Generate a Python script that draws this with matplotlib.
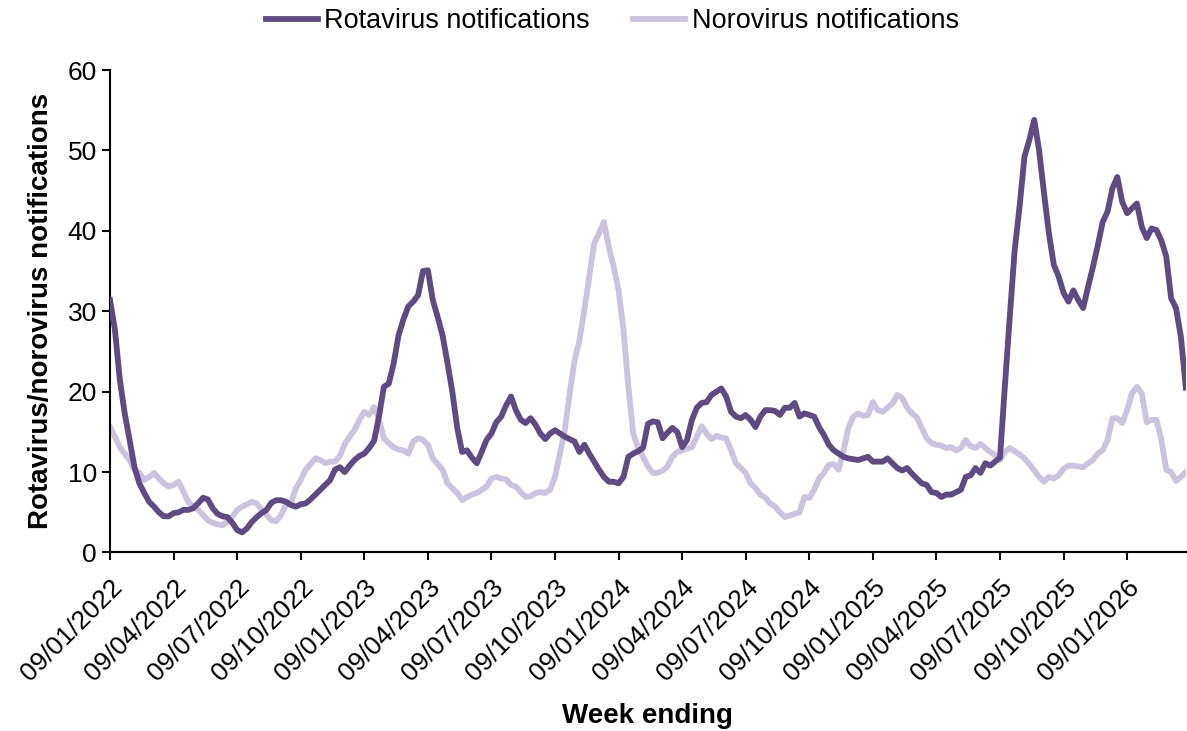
import numpy as np
import matplotlib
matplotlib.use("Agg")
import matplotlib.pyplot as plt

plt.rcParams['font.family'] = ['Liberation Sans', 'DejaVu Sans']

# weekly notifications
rotavirus = [
    31.4, 27.7, 21.5, 17.3, 14.0, 10.6, 8.6, 7.4, 6.3, 5.7,
    5.0, 4.5, 4.5, 4.9, 5.0, 5.3, 5.3, 5.5, 6.1, 6.8,
    6.6, 5.5, 4.8, 4.5, 4.4, 3.7, 2.8, 2.5, 3.0, 3.8,
    4.4, 4.9, 5.3, 6.2, 6.5, 6.5, 6.3, 5.9, 5.7, 6.0,
    6.1, 6.6, 7.2, 7.8, 8.4, 9.0, 10.3, 10.6, 10.0, 10.8,
    11.5, 12.0, 12.3, 13.0, 13.9, 16.9, 20.6, 21.0, 23.5, 27.0,
    29.0, 30.6, 31.2, 32.0, 35.0, 35.1, 31.4, 29.3, 27.0, 23.6,
    20.0, 15.5, 12.5, 12.7, 11.8, 11.1, 12.5, 14.0, 14.8, 16.2,
    16.9, 18.3, 19.4, 17.7, 16.5, 16.1, 16.7, 15.9, 14.8, 14.1,
    14.8, 15.2, 14.8, 14.4, 14.1, 13.8, 12.5, 13.4, 12.3, 11.3,
    10.3, 9.4, 8.8, 8.8, 8.6, 9.4, 11.9, 12.3, 12.6, 13.0,
    16.0, 16.3, 16.2, 14.2, 14.9, 15.5, 15.0, 13.1, 14.0, 16.5,
    18.0, 18.6, 18.7, 19.6, 20.0, 20.4, 19.4, 17.5, 16.9, 16.7,
    17.1, 16.5, 15.6, 16.9, 17.7, 17.7, 17.6, 17.1, 18.0, 18.0,
    18.6, 16.9, 17.3, 17.1, 16.9, 15.6, 14.6, 13.4, 12.7, 12.3,
    11.9, 11.7, 11.6, 11.5, 11.7, 11.9, 11.3, 11.3, 11.3, 11.7,
    11.1, 10.5, 10.2, 10.5, 9.8, 9.2, 8.6, 8.4, 7.5, 7.4,
    6.9, 7.2, 7.2, 7.5, 7.8, 9.4, 9.6, 10.5, 9.9, 11.1,
    10.8, 11.3, 11.8, 20.7, 29.3, 37.6, 43.0, 49.2, 51.3, 53.8,
    50.0, 44.7, 39.7, 35.8, 34.3, 32.3, 31.2, 32.6, 31.4, 30.4,
    33.0, 35.5, 38.2, 41.1, 42.4, 45.3, 46.7, 43.6, 42.2, 42.8,
    43.4, 40.5, 39.1, 40.3, 40.1, 38.8, 36.8, 31.6, 30.4, 26.8,
    20.5,
]

norovirus = [
    15.6, 14.4, 13.1, 12.3, 11.5, 10.3, 9.9, 9.0, 9.4, 9.9,
    9.2, 8.6, 8.2, 8.4, 8.8, 7.6, 6.3, 5.7, 5.3, 4.7,
    4.0, 3.7, 3.5, 3.4, 3.8, 4.4, 5.3, 5.7, 6.0, 6.3,
    6.1, 5.3, 4.7, 4.0, 3.9, 4.7, 5.9, 6.1, 8.0, 9.0,
    10.3, 11.0, 11.7, 11.5, 11.1, 11.3, 11.3, 12.0, 13.5, 14.4,
    15.2, 16.5, 17.5, 17.1, 18.1, 16.5, 14.2, 13.6, 13.1, 12.8,
    12.7, 12.3, 13.8, 14.2, 14.0, 13.4, 11.7, 11.0, 10.3, 8.6,
    8.0, 7.4, 6.5, 6.9, 7.2, 7.4, 7.8, 8.2, 9.2, 9.4,
    9.2, 9.1, 8.4, 8.2, 7.5, 6.9, 7.0, 7.4, 7.5, 7.4,
    7.8, 9.4, 12.3, 15.2, 19.8, 23.9, 26.4, 30.2, 34.3, 38.4,
    39.7, 41.1, 38.0, 35.5, 32.6, 27.7, 20.6, 14.8, 13.0, 11.9,
    10.7, 9.9, 9.9, 10.2, 10.7, 11.9, 12.5, 12.7, 12.9, 13.1,
    14.4, 15.7, 14.8, 14.1, 14.5, 14.3, 14.2, 12.7, 11.1, 10.5,
    9.9, 8.6, 8.0, 7.2, 6.8, 6.1, 5.7, 5.0, 4.4, 4.6,
    4.8, 5.0, 6.9, 6.8, 7.8, 9.2, 9.9, 10.9, 11.0, 10.3,
    12.7, 15.5, 16.9, 17.3, 17.0, 17.1, 18.7, 17.7, 17.5, 18.0,
    18.5, 19.6, 19.2, 18.0, 17.3, 16.8, 15.5, 14.2, 13.6, 13.4,
    13.3, 13.0, 13.1, 12.7, 13.0, 14.0, 13.2, 13.0, 13.5, 13.0,
    12.5, 12.1, 11.5, 12.5, 13.0, 12.6, 12.2, 11.7, 11.0, 10.2,
    9.4, 8.8, 9.4, 9.2, 9.6, 10.4, 10.8, 10.8, 10.7, 10.6,
    11.1, 11.5, 12.3, 12.7, 14.0, 16.7, 16.7, 16.1, 17.7, 19.8,
    20.6, 19.8, 16.2, 16.5, 16.5, 14.0, 10.3, 10.0, 8.9, 9.4,
    10.0,
]

tick_labels = [
    "09/01/2022", "09/04/2022", "09/07/2022", "09/10/2022",
    "09/01/2023", "09/04/2023", "09/07/2023", "09/10/2023",
    "09/01/2024", "09/04/2024", "09/07/2024", "09/10/2024",
    "09/01/2025", "09/04/2025", "09/07/2025", "09/10/2025",
    "09/01/2026",
]

weeks = np.arange(len(rotavirus))

fig = plt.figure(figsize=(11.87, 7.31), dpi=100)
ax = fig.add_axes([0.0927, 0.2442, 0.9063, 0.6600])

ax.plot(weeks, rotavirus, color='#5f4b81', lw=4.2, solid_joinstyle='round',
        label='Rotavirus notifications', zorder=3)
ax.plot(weeks, norovirus, color='#ccc3de', lw=4.2, solid_joinstyle='round',
        label='Norovirus notifications', zorder=2)

ax.set_xlim(0, len(weeks) - 1)
ax.set_ylim(0, 60)
ax.set_yticks(range(0, 61, 10))
ax.set_xticks(np.arange(0, len(weeks), 13))
ax.set_xticklabels(tick_labels, rotation=45, ha='right', va='top',
                   rotation_mode='anchor')

for s in ['top', 'right']:
    ax.spines[s].set_visible(False)
for s in ['left', 'bottom']:
    ax.spines[s].set_linewidth(1.5)
ax.tick_params(axis='both', direction='out', length=6, width=1.5,
               labelsize=19, colors='black')
ax.tick_params(axis='x', pad=10)

ax.set_xlabel('Week ending', fontsize=20, fontweight='bold', labelpad=13)
ax.set_ylabel('Rotavirus/norovirus notifications', fontsize=20,
              fontweight='bold', labelpad=10)

fig.legend(loc='upper center', bbox_to_anchor=(0.516, 1.022), ncol=2,
           frameon=False, fontsize=19.5, handlelength=1.9, columnspacing=1.6,
           handletextpad=0.25)

plt.savefig('out.png', dpi=100)
plt.close()
